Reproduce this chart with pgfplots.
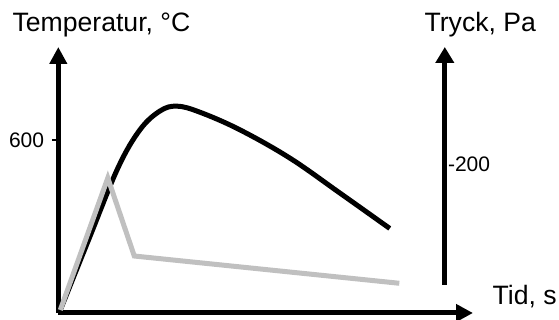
\documentclass[border=0pt]{standalone}
\usepackage{pgfplots}
\pgfplotsset{compat=1.18}
\usepackage{fontspec}
\setmainfont{Liberation Sans}
\usetikzlibrary{arrows.meta}
\definecolor{lightgraycurve}{RGB}{192,192,192}
\begin{document}
\begin{tikzpicture}
\useasboundingbox (0,0) rectangle (559pt,320pt);
% Temperature axis (left) and time axis
\begin{axis}[
  at={(58.3pt,7pt)}, anchor=south west,
  scale only axis, width=414.7pt, height=266pt,
  xmin=0, xmax=415, ymin=0, ymax=922,
  axis lines=left,
  axis line style={line width=5pt, -{Triangle[width=17pt,length=17pt]}},
  xtick=\empty, ytick={600}, yticklabels={600},
  tick align=outside, major tick length=6pt,
  tick style={line width=1.8pt, black},
  yticklabel style={font=\fontsize{21}{25}\selectfont, anchor=east, inner sep=0pt, xshift=-8pt},
  clip=false,
  xlabel={Tid, s}, ylabel={Temperatur, °C},
  every axis x label/.style={at={(rel axis cs:1.0468,0.0301)}, anchor=base west, inner sep=0pt, font=\fontsize{26.6}{30}\selectfont},
  every axis y label/.style={at={(rel axis cs:-0.1107,1.0575)}, anchor=base west, inner sep=0pt, font=\fontsize{26.6}{30}\selectfont},
]
\addplot[black, line width=5pt, smooth, tension=0.6, line join=round] coordinates {
  (2,10) (30.7,257) (59.7,503) (81.7,635) (101.7,700) (118.7,717)
  (141.7,696) (181.7,635) (231.7,537) (281.7,416) (331.7,293)
};
\end{axis}
% Pressure axis (right)
\begin{axis}[
  at={(58.3pt,35pt)}, anchor=south west,
  scale only axis, width=386.5pt, height=238pt,
  xmin=0, xmax=386.5, ymin=-406.84, ymax=0,
  axis x line=none, axis y line=right,
  axis line style={line width=5pt, -{Triangle[width=18pt,length=16pt]}},
  xtick=\empty, ytick={-200}, yticklabels={-200},
  major tick length=0pt,
  yticklabel style={font=\fontsize{21}{25}\selectfont, anchor=west, inner sep=0pt, xshift=3pt},
  clip=false,
  ylabel={Tryck, Pa},
  every axis y label/.style={at={(rel axis cs:0.9472,1.0643)}, anchor=base west, inner sep=0pt, font=\fontsize{26.6}{30}\selectfont},
]
\addplot[lightgraycurve, line width=5pt] coordinates {
  (2,-449.6) (49.5,-223.9) (76,-357.3) (341,-403.9)
};
\end{axis}
\end{tikzpicture}
\end{document}
